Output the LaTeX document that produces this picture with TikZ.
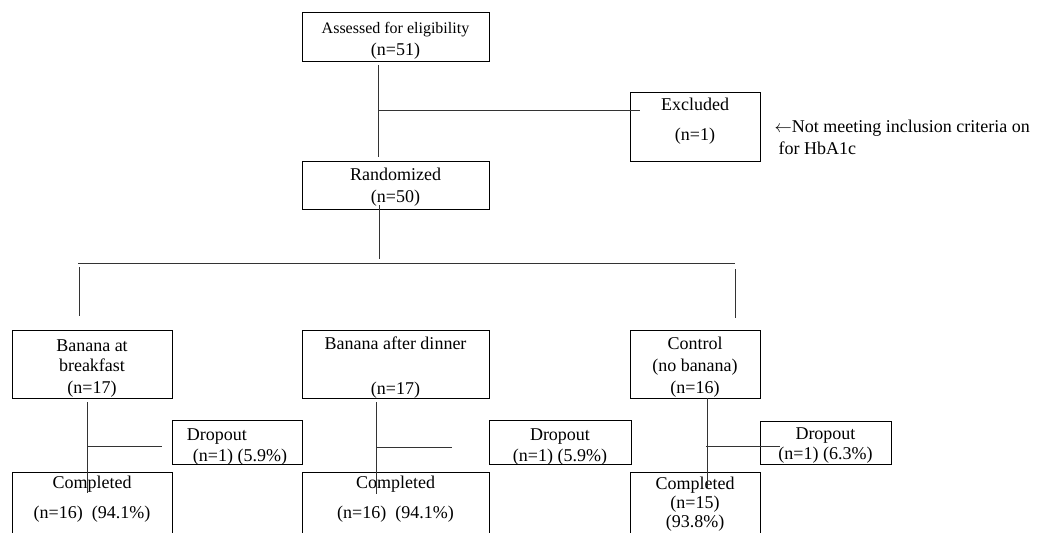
\documentclass[tikz,border=0pt]{standalone}
\usepackage{fontspec}
\setmainfont{Liberation Serif}
\usetikzlibrary{positioning}

\begin{document}
\begin{tikzpicture}[x=1pt, y=-1pt,
    font=\fontsize{18}{22}\selectfont,
    box/.style={draw, rectangle, line width=0.9pt, inner sep=0pt, align=center},
    lastline/.style={text height=#1, text depth=0pt},
    link/.style={draw=black!80, line width=0.8pt}]
      \useasboundingbox (0,0) rectangle (1037,533);
      \clip (0,0) rectangle (1037,533);

      % enrolment
      \node[box, lastline=37pt, minimum width=187, minimum height=49] (assess) at (395.5,36.5)
        {{\fontsize{16}{18}\selectfont Assessed for eligibility}\\(n=51)};
      \node[box, lastline=27pt, minimum width=130, minimum height=69] (excl) at (695,126.5)
        {Excluded\\[8pt](n=1)};
      \node[anchor=west, align=left] (note) at (771,137)
        {$\leftarrow$Not meeting inclusion criteria on\\\hspace*{4pt}for HbA1c};
      \node[box, lastline=34pt, minimum width=187, minimum height=48] (rand) at (395.5,185)
        {Randomized\\(n=50)};

      % allocation
      \node[box, lastline=58pt, minimum width=160, minimum height=68] (armA) at (92,364)
        {Banana at\\[-2pt]breakfast\\(n=17)};
      \node[box, lastline=60pt, minimum width=187, minimum height=68] (armB) at (395.5,364)
        {Banana after dinner\\[23pt](n=17)};
      \node[box, lastline=58pt, minimum width=130, minimum height=68] (armC) at (695,364)
        {Control\\(no banana)\\(n=16)};

      % follow-up
      \node[box, lastline=38pt, minimum width=130, minimum height=44, align=left] (dropA) at (237,442)
        {Dropout\\[-1pt]\hspace*{6pt}(n=1) (5.9\%)};
      \node[box, lastline=38pt, minimum width=142, minimum height=44] (dropB) at (560,442)
        {Dropout\\[-1pt](n=1) (5.9\%)};
      \node[box, lastline=33pt, minimum width=131, minimum height=43] (dropC) at (825.5,442.5)
        {Dropout\\[-2pt](n=1) (6.3\%)};

      \node[box, lastline=24pt, minimum width=160, minimum height=68] (compA) at (92,506)
        {Completed\\[8pt](n=16)~~(94.1\%)};
      \node[box, lastline=24pt, minimum width=187, minimum height=68] (compB) at (395.5,506)
        {Completed\\[8pt](n=16)~~(94.1\%)};
      \node[box, lastline=43pt, minimum width=130, minimum height=68] (compC) at (695,506)
        {Completed\\[-3pt](n=15)\\[-3pt](93.8\%)};

      % connector ends
      \coordinate (s1) at (378,65);   \coordinate (s2) at (378,157);
      \coordinate (e1) at (378,110);  \coordinate (e2) at (640,110);
      \coordinate (r1) at (379,205);  \coordinate (r2) at (379,259);
      \coordinate (h1) at (78,263);   \coordinate (h2) at (735,263);
      \coordinate (la) at (79,267);   \coordinate (lb) at (79,316);
      \coordinate (ra) at (735,269);  \coordinate (rb) at (735,318);
      \coordinate (a1) at (87,402);   \coordinate (a2) at (87,493);
      \coordinate (a3) at (87,446);   \coordinate (a4) at (162,446);
      \coordinate (b1) at (376,402);  \coordinate (b2) at (376,494);
      \coordinate (b3) at (376,447);  \coordinate (b4) at (452,447);
      \coordinate (c1) at (707,398);  \coordinate (c2) at (707,489);
      \coordinate (c3) at (706,446);  \coordinate (c4) at (780,446);

      \draw[link] (s1) -- (s2);
      \draw[link] (e1) -- (e2);
      \draw[link] (r1) -- (r2);
      \draw[link] (h1) -- (h2);
      \draw[link] (la) -- (lb);
      \draw[link] (ra) -- (rb);
      \draw[link] (a1) -- (a2);
      \draw[link] (a3) -- (a4);
      \draw[link] (b1) -- (b2);
      \draw[link] (b3) -- (b4);
      \draw[link] (c1) -- (c2);
      \draw[link] (c3) -- (c4);
\end{tikzpicture}
\end{document}
